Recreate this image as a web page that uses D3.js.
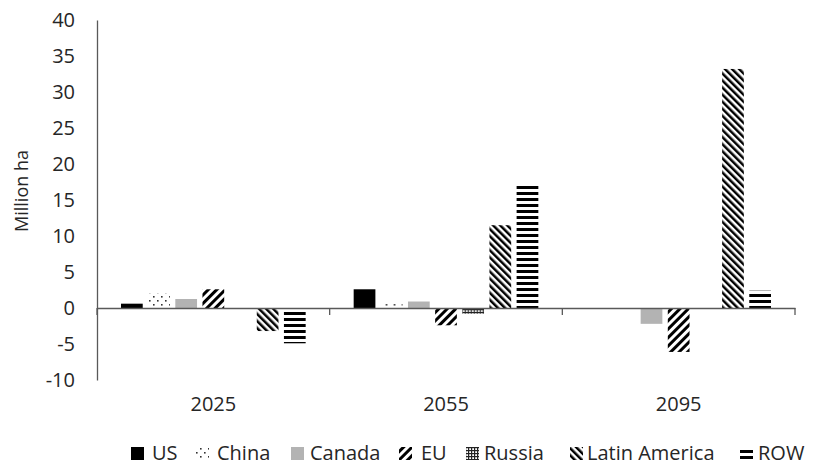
<!DOCTYPE html>
<html>
<head>
<meta charset="utf-8">
<script src="https://cdn.jsdelivr.net/npm/d3@7"></script>
<style>
  html, body { margin: 0; padding: 0; background: #fff; }
  svg { display: block; font-family: "Open Sans", sans-serif; }
</style>
</head>
<body>
<svg id="chart" width="816" height="470"></svg>
<script>
// Land-use change by region, million hectares
const years = ["2025", "2055", "2095"];
const regions = ["US", "China", "Canada", "EU", "Russia", "Latin America", "ROW"];
const valuesUS     = [0.6, 2.6, 0.0];
const valuesChina  = [2.0, 0.6, 0.15];
const valuesCanada = [1.25, 0.9, -2.2];
const valuesEU     = [2.6, -2.4, -6.1];
const valuesRussia = [0.0, -0.8, 0.0];
const valuesLatAm  = [-3.2, 11.5, 33.2];
const valuesROW    = [-4.9, 17.1, 2.4];
const yTicks = [-10, -5, 0, 5, 10, 15, 20, 25, 30, 35, 40];

const seriesValues = [valuesUS, valuesChina, valuesCanada, valuesEU, valuesRussia, valuesLatAm, valuesROW];

const svg = d3.select("#chart");
const left = 97, right = 795;

const y = d3.scaleLinear().domain([-10, 40]).range([380, 20]);
const x0 = d3.scaleBand().domain(years).range([left, right]);
const x1 = d3.scaleBand().domain(regions)
  .range([24, x0.bandwidth() - 24]).paddingInner(0.2);

// Fill patterns, one per region
const defs = svg.append("defs");
function pat(id, w, h, draw) {
  const p = defs.append("pattern").attr("id", id)
    .attr("patternUnits", "userSpaceOnUse").attr("width", w).attr("height", h);
  p.append("rect").attr("width", w).attr("height", h).attr("fill", "#fff");
  draw(p);
  return `url(#${id})`;
}
const fills = {
  "US": "#000",
  "China": pat("p-china", 8, 8, p => {
    p.append("rect").attr("x", 0).attr("y", 0).attr("width", 1.6).attr("height", 1.6).attr("fill", "#333");
    p.append("rect").attr("x", 4).attr("y", 4).attr("width", 1.6).attr("height", 1.6).attr("fill", "#333");
  }),
  "Canada": "#b3b3b3",
  "EU": pat("p-eu", 6, 6, p => {
    p.attr("patternTransform", "rotate(45)");
    p.append("rect").attr("x", 0).attr("y", 0).attr("width", 3).attr("height", 6).attr("fill", "#000");
  }),
  "Russia": pat("p-ru", 3, 3, p => {
    p.append("rect").attr("x", 0).attr("y", 0).attr("width", 3).attr("height", 1.2).attr("fill", "#222");
    p.append("rect").attr("x", 0).attr("y", 0).attr("width", 1.2).attr("height", 3).attr("fill", "#222");
  }),
  "Latin America": pat("p-la", 5, 5, p => {
    p.attr("patternTransform", "rotate(-45)");
    p.append("rect").attr("x", 0).attr("y", 0).attr("width", 2.5).attr("height", 5).attr("fill", "#000");
  }),
  "ROW": pat("p-row", 6, 6, p => {
    p.append("rect").attr("x", 0).attr("y", 0).attr("width", 6).attr("height", 3).attr("fill", "#000");
  })
};

const textColor = "#262626";
const axisColor = "#595959";

// Y axis (plain hyphen for negatives)
const yAxis = svg.append("g").attr("transform", `translate(${left},0)`)
  .call(d3.axisLeft(y).tickValues(yTicks).tickSize(0).tickPadding(22)
    .tickFormat(d => String(d)));
yAxis.select(".domain").attr("stroke", axisColor).attr("stroke-width", 1.3);
yAxis.selectAll("text").attr("font-size", 20).attr("fill", textColor)
  .attr("font-family", "'Open Sans', sans-serif");

// Y title
svg.append("text")
  .attr("transform", "translate(28,191) rotate(-90)")
  .attr("text-anchor", "middle")
  .attr("font-size", 18).attr("fill", textColor)
  .text("Million ha");

// Bars
const groups = svg.append("g").selectAll("g").data(years).join("g")
  .attr("transform", d => `translate(${x0(d)},0)`);
groups.selectAll("rect")
  .data((d, i) => regions.map((r, k) => ({ region: r, value: seriesValues[k][i] })))
  .join("rect")
  .attr("x", d => x1(d.region))
  .attr("width", x1.bandwidth())
  .attr("y", d => y(Math.max(0, d.value)))
  .attr("height", d => Math.abs(y(d.value) - y(0)))
  .attr("fill", d => fills[d.region]);

// X axis at zero
const xAxis = svg.append("g").attr("transform", `translate(0,${y(0)})`)
  .call(d3.axisBottom(x0).tickSize(0).tickFormat(""));
xAxis.select(".domain").attr("stroke", axisColor).attr("stroke-width", 1.3);
// category boundary ticks
const bounds = years.map(d => x0(d)).concat([x0(years[years.length - 1]) + x0.bandwidth()]);
xAxis.selectAll("line.bound").data(bounds).join("line").attr("class", "bound")
  .attr("x1", d => d).attr("x2", d => d).attr("y1", 0).attr("y2", 7)
  .attr("stroke", axisColor).attr("stroke-width", 1.3);

// Category labels below the plot
svg.append("g").selectAll("text").data(years).join("text")
  .attr("x", d => x0(d) + x0.bandwidth() / 2)
  .attr("y", 411)
  .attr("text-anchor", "middle")
  .attr("font-size", 20).attr("fill", textColor)
  .text(d => d);

// Legend
const swatchX = [131, 196, 291, 399, 466, 570, 740];
const labelX  = [152, 217, 310, 421, 484, 587, 758];
const legend = svg.append("g").selectAll("g").data(regions).join("g");
legend.append("rect")
  .attr("x", (d, i) => swatchX[i]).attr("y", 447)
  .attr("width", 13).attr("height", 13)
  .attr("fill", d => fills[d]);
legend.append("text")
  .attr("x", (d, i) => labelX[i]).attr("y", 460)
  .attr("font-size", 20).attr("fill", textColor)
  .text(d => d);
</script>
</body>
</html>
